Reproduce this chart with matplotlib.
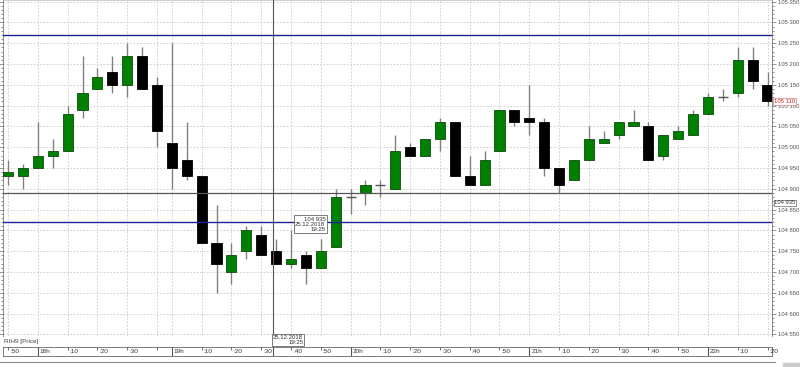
import matplotlib
matplotlib.use("Agg")
import matplotlib.pyplot as plt
from matplotlib.ticker import MultipleLocator, FuncFormatter
import numpy as np

# 5-minute bars RIH9, 25.12.2018 17:50 - 22:20
opens = [104930, 104930, 104950, 104980, 104990, 105090, 105140, 105180, 105150, 105220,
         105150, 105010, 104970, 104930, 104770, 104700, 104750, 104790, 104750, 104720,
         104740, 104710, 104760, 104880, 104890, 104910, 104900, 105000, 104980, 105020,
         105060, 104930, 104910, 104990, 105090, 105070, 105060, 104950, 104920, 104970,
         105010, 105030, 105050, 105050, 104980, 105020, 105030, 105080, 105120, 105130,
         105210, 105150]
highs = [104970, 104960, 105060, 105020, 105100, 105220, 105190, 105220, 105250, 105240,
         105170, 105250, 105060, 104930, 104860, 104770, 104810, 104810, 104780, 104800,
         104750, 104780, 104900, 104900, 104920, 104920, 105030, 105010, 105020, 105070,
         105060, 104980, 104990, 105090, 105090, 105150, 105070, 104950, 104970, 105050,
         105040, 105060, 105090, 105060, 105030, 105050, 105090, 105130, 105140, 105240,
         105240, 105180]
lows = [104910, 104900, 104950, 104950, 104990, 105070, 105140, 105130, 105120, 105140,
        105000, 104900, 104920, 104770, 104650, 104670, 104730, 104740, 104720, 104710,
        104670, 104710, 104760, 104840, 104860, 104880, 104900, 104980, 104980, 104990,
        104930, 104910, 104910, 104990, 105050, 105030, 104930, 104890, 104920, 104970,
        105010, 105020, 105050, 104970, 104970, 105020, 105030, 105080, 105110, 105120,
        105140, 105100]
closes = [104940, 104950, 104980, 104990, 105080, 105130, 105170, 105150, 105220, 105140,
          105040, 104950, 104930, 104770, 104720, 104740, 104800, 104740, 104720, 104730,
          104710, 104750, 104880, 104880, 104910, 104910, 104990, 104980, 105020, 105060,
          104930, 104910, 104970, 105090, 105060, 105060, 104950, 104910, 104970, 105020,
          105020, 105060, 105060, 104970, 105030, 105040, 105080, 105120, 105120, 105210,
          105160, 105110]

tick_idx = [0, 2, 4, 6, 8, 10, 11, 13, 15, 17, 19, 21, 23, 25, 27, 29, 31, 33, 35,
            37, 39, 41, 43, 45, 47, 49, 51]
tick_labels = [":50", "18h", ":10", ":20", ":30", "", "19h", ":10", ":20", ":30", ":40",
               ":50", "20h", ":10", ":20", ":30", ":40", ":50", "21h", ":10", ":20",
               ":30", ":40", ":50", "22h", ":10", ":20"]

blue_levels = [105270, 104820]
gray_level = 104890
cross_idx = 17.8
cross_price_text = "104 935"
cross_time = "25.12.2018\n19:25"

W, H = 800, 367
plt.rcParams['font.family'] = ['Liberation Sans', 'DejaVu Sans']
fig = plt.figure(figsize=(W / 100, H / 100), dpi=100)


def box(x0, y0, x1, y1):
    return [x0 / W, 1 - y1 / H, (x1 - x0) / W, (y1 - y0) / H]


fmt = FuncFormatter(lambda v, p: f"{v:,.0f}".replace(",", " "))

ax = fig.add_axes(box(3, 0, 772, 336))
o = np.array(opens)
h = np.array(highs)
l = np.array(lows)
c = np.array(closes)
idx = np.arange(len(o))
ax.set_xlim(-0.34, 51.3)
ax.set_ylim(104546, 105354)

# grid
ax.set_yticks(np.arange(104550, 105351, 50))
ax.yaxis.set_minor_locator(MultipleLocator(10))
ax.yaxis.set_major_formatter(fmt)
ax.grid(axis='y', ls=(0, (2, 2)), color='#c8c8c8', lw=0.6)
ax.set_xticks(tick_idx)
ax.set_xticklabels([])
ax.tick_params(axis='x', length=0)
ax.grid(axis='x', ls=(0, (2, 2)), color='#c8c8c8', lw=0.6)
ax.set_axisbelow(True)

ax.yaxis.tick_right()
ax.tick_params(axis='y', which='both', left=True, right=True, labelleft=False,
               labelright=True, color='#666', width=0.5)
ax.tick_params(axis='y', which='major', length=3, labelsize=4.2, labelcolor='#555', pad=1)
ax.tick_params(axis='y', which='minor', length=1.5)
for s in ['left', 'right']:
    ax.spines[s].set_color('#777')
    ax.spines[s].set_linewidth(0.6)
ax.spines['top'].set_color('#bbbbbb')
ax.spines['top'].set_linewidth(0.5)
ax.spines['bottom'].set_visible(False)

# levels
for lv in blue_levels:
    ax.axhline(lv, color='#20209a', lw=1, zorder=4)
ax.axhline(gray_level, color='#555555', lw=0.9, zorder=4)

# candles
up = c >= o
body_col = np.where(up, '#008000', '#000000')
edge_col = np.where(up, '#0b4a0b', '#000000')
ax.vlines(idx, l, h, color='#808080', lw=1, zorder=2)
hgt = np.abs(c - o)
m = hgt > 0
ax.bar(idx[m], hgt[m], bottom=np.minimum(o, c)[m], width=0.68, color=body_col[m],
       edgecolor=edge_col[m], lw=0.6, zorder=3)
ax.hlines(o[~m], idx[~m] - 0.34, idx[~m] + 0.34, color='#555555', lw=1, zorder=3)

# crosshair
ax.axvline(cross_idx, ymin=-0.04, ymax=1, color='#555555', lw=0.8, clip_on=False, zorder=5)
ax.text(21.3, 104833, cross_price_text + "\n" + cross_time, ha='right', va='top',
        fontsize=4.3, linespacing=1.0, color='#333', zorder=6,
        bbox=dict(boxstyle='square,pad=0.25', fc='white', ec='#666', lw=0.6))

ytr = ax.get_yaxis_transform()
ax.text(1.003, c[-1], fmt(c[-1]), transform=ytr, ha='left', va='center', fontsize=4.2,
        color='#d02020', clip_on=False, zorder=6,
        bbox=dict(boxstyle='square,pad=0.15', fc='white', ec='#d08080', lw=0.5))
ax.text(1.003, 104866, cross_price_text, transform=ytr, ha='left', va='center',
        fontsize=4.2, color='#333', clip_on=False, zorder=6,
        bbox=dict(boxstyle='square,pad=0.1', fc='white', ec='#666', lw=0.5))

fig.text(4 / W, 1 - 341 / H, "RIH9 [Price]", fontsize=4.6, color='#444', va='center')

# time strip
sax = fig.add_axes(box(3, 347, 772, 356))
sax.set_xlim(ax.get_xlim())
sax.set_ylim(0, 1)
sax.set_xticks([])
sax.set_yticks([])
for s in sax.spines.values():
    s.set_color('#666')
    s.set_linewidth(0.6)
for i, lab in zip(tick_idx, tick_labels):
    if lab.endswith('h'):
        sax.axvline(i, color='#555', lw=0.8)
    else:
        sax.vlines(i, 0.7, 1, color='#555', lw=0.6)
    sax.annotate(lab, (i, 0.45), xytext=(1.5, 0), textcoords='offset points',
                 ha='left', va='center', fontsize=4.6, color='#333')
sax.axvline(cross_idx, color='#555555', lw=0.8)
sax.text(cross_idx, 2.35, cross_time, ha='left', va='top', fontsize=4.3,
         linespacing=1.0, color='#333', clip_on=False, zorder=6, multialignment='right',
         bbox=dict(boxstyle='square,pad=0.2', fc='white', ec='#666', lw=0.6))

fig.add_artist(plt.Line2D([0, 775 / W], [1 - 362 / H] * 2, color='#888', lw=0.8))
fig.add_artist(plt.Rectangle((783 / W, 0), 17 / W, 4 / H, color='#cccccc',
                             transform=fig.transFigure))

fig.savefig("out.png", dpi=100, facecolor='white')
